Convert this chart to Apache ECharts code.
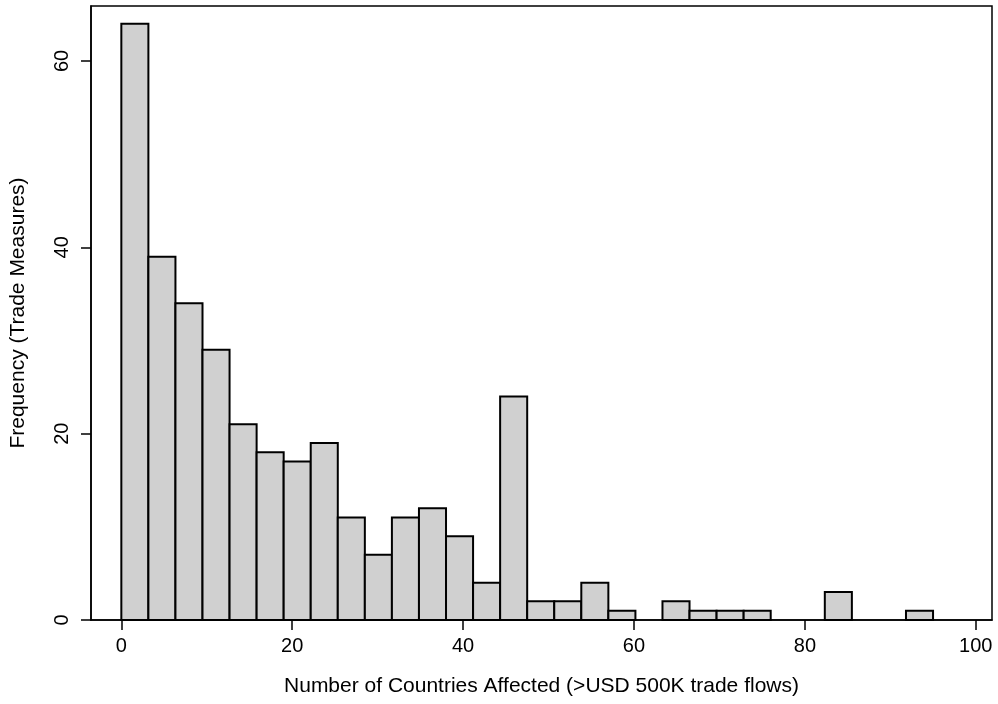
<!DOCTYPE html>
<html>
<head>
<meta charset="utf-8">
<script src="https://cdn.jsdelivr.net/npm/echarts@6/dist/echarts.min.js"></script>
<style>
html,body{margin:0;padding:0;background:#fff;}
#chart{width:998px;height:704px;}
</style>
</head>
<body>
<div id="chart"></div>
<script>
// Histogram: 30 bins spanning 0 to 95
const binStart = 0;
const binWidth = 95 / 30;
const counts = [64, 39, 34, 29, 21, 18, 17, 19, 11, 7, 11, 12, 9, 4, 24, 2, 2, 4, 1, 0, 2, 1, 1, 1, 0, 0, 3, 0, 0, 1];
const xTicks = [0, 20, 40, 60, 80, 100];
const yTicks = [0, 20, 40, 60];
const xTitle = 'Number of Countries Affected (>USD 500K trade flows)';
const yTitle = 'Frequency (Trade Measures)';

const data = [];
counts.forEach((c, i) => {
  if (c > 0) data.push([binStart + i * binWidth, binStart + (i + 1) * binWidth, c]);
});

const font = 'Liberation Sans, Arial, Helvetica, sans-serif';
const chart = echarts.init(document.getElementById('chart'), null, {renderer: 'canvas'});
chart.setOption({
  backgroundColor: '#ffffff',
  animation: false,
  grid: {left: 91, right: 6, top: 6, bottom: 84, show: true, borderColor: '#000', borderWidth: 1.5, backgroundColor: '#fff'},
  xAxis: {
    type: 'value', min: -3.55, max: 101.9,
    name: xTitle, nameLocation: 'middle', nameGap: 56,
    nameTextStyle: {fontFamily: font, fontSize: 21, color: '#000'},
    axisLine: {show: true, onZero: false, lineStyle: {color: '#000', width: 1.5}},
    axisTick: {show: true, length: 10, customValues: xTicks, lineStyle: {color: '#000', width: 1.5}},
    axisLabel: {customValues: xTicks, margin: 16, fontFamily: font, fontSize: 20, color: '#000'},
    splitLine: {show: false}
  },
  yAxis: {
    type: 'value', min: 0, max: 65.9,
    name: yTitle, nameLocation: 'middle', nameGap: 62, nameRotate: 90,
    nameTextStyle: {fontFamily: font, fontSize: 21, color: '#000'},
    axisLine: {show: true, onZero: false, lineStyle: {color: '#000', width: 1.5}},
    axisTick: {show: true, length: 10, customValues: yTicks, lineStyle: {color: '#000', width: 1.5}},
    axisLabel: {customValues: yTicks, rotate: 90, margin: 19, fontFamily: font, fontSize: 20, color: '#000'},
    splitLine: {show: false}
  },
  series: [{
    type: 'custom',
    data: data,
    encode: {x: [0, 1], y: 2},
    renderItem: function (params, api) {
      const p0 = api.coord([api.value(0), api.value(2)]);
      const p1 = api.coord([api.value(1), 0]);
      return {
        type: 'rect',
        shape: {x: p0[0], y: p0[1], width: p1[0] - p0[0], height: p1[1] - p0[1]},
        style: {fill: '#d0d0d0', stroke: '#000', lineWidth: 2}
      };
    }
  }]
});
</script>
</body>
</html>
